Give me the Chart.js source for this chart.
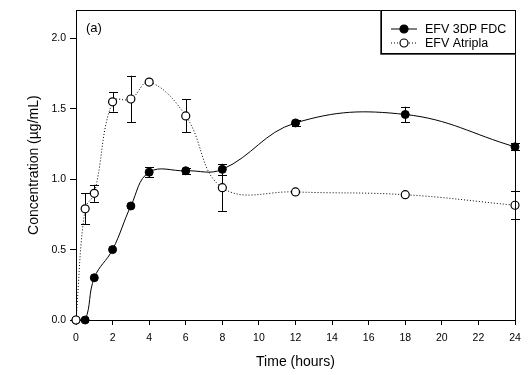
<!DOCTYPE html>
<html>
<head>
<meta charset="utf-8">
<script src="https://cdn.jsdelivr.net/npm/chart.js"></script>
<style>
  html, body { margin: 0; padding: 0; background: #fff; }
  #wrap { width: 530px; height: 375px; }
</style>
</head>
<body>
<div id="wrap"><canvas id="pkChart" width="530" height="375"></canvas></div>
<script>
// sampling times (hours)
const times = [0, 0.5, 1, 2, 3, 4, 6, 8, 12, 18, 24];

// EFV 3DP FDC - mean and error
const fdcMean = [0, 0, 0.30, 0.50, 0.81, 1.05, 1.06, 1.07, 1.40, 1.46, 1.23];
const fdcErr  = [0, 0, 0, 0, 0, 0.035, 0.02, 0.04, 0.02, 0.055, 0.025];

// EFV Atripla - mean and error
const atrMean = [0, 0.79, 0.90, 1.55, 1.57, 1.69, 1.45, 0.94, 0.91, 0.89, 0.815];
const atrErr  = [0, 0.11, 0.06, 0.07, 0.165, 0, 0.117, 0.165, 0, 0, 0.1];

const yTicks = [0, 0.5, 1.0, 1.5, 2.0];
const seriesNames = ['EFV 3DP FDC', 'EFV Atripla'];

const FONT = "'Liberation Sans', Arial, sans-serif";
Chart.defaults.font.family = FONT;
Chart.defaults.color = '#000';

function toPoints(xs, ys) {
    return xs.map((x, i) => ({ x: x, y: ys[i] }));
}

// draws the vertical error bars behind the markers
const errorBars = {
    id: 'errorBars',
    beforeDatasetsDraw(chart) {
        const ctx = chart.ctx;
        const xs = chart.scales.x, ys = chart.scales.y;
        const errs = [fdcErr, atrErr];
        ctx.save();
        ctx.strokeStyle = '#000';
        ctx.lineWidth = 1;
        chart.data.datasets.forEach((ds, d) => {
            ds.data.forEach((p, i) => {
                const e = errs[d][i];
                if (!e) return;
                const px = Math.round(xs.getPixelForValue(p.x)) + 0.5;
                const top = ys.getPixelForValue(p.y + e);
                const bot = ys.getPixelForValue(p.y - e);
                ctx.beginPath();
                ctx.moveTo(px, top); ctx.lineTo(px, bot);
                ctx.moveTo(px - 4.5, Math.round(top) + 0.5); ctx.lineTo(px + 4.5, Math.round(top) + 0.5);
                ctx.moveTo(px - 4.5, Math.round(bot) + 0.5); ctx.lineTo(px + 4.5, Math.round(bot) + 0.5);
                ctx.stroke();
            });
        });
        ctx.restore();
    }
};

// frame, panel label and legend box
const decorations = {
    id: 'decorations',
    afterDraw(chart) {
        const ctx = chart.ctx;
        const a = chart.chartArea;
        ctx.save();
        ctx.strokeStyle = '#000';
        ctx.lineWidth = 1;
        ctx.beginPath();
        ctx.moveTo(Math.round(a.left) + 0.5, Math.round(a.top) + 0.5);
        ctx.lineTo(Math.round(a.right) + 0.5, Math.round(a.top) + 0.5);
        ctx.lineTo(Math.round(a.right) + 0.5, Math.round(a.bottom) + 0.5);
        ctx.stroke();

        ctx.fillStyle = '#000';
        ctx.font = '13px ' + FONT;
        ctx.textBaseline = 'middle';
        ctx.textAlign = 'left';
        ctx.fillText('(a)', a.left + 10, a.top + 18);

        // legend
        const bx = 381.5, by = Math.round(a.top) + 0.5, bw = Math.round(a.right) - 381, bh = 43;
        ctx.fillStyle = '#fff';
        ctx.fillRect(bx, by, bw, bh);
        ctx.strokeStyle = '#555';
        ctx.beginPath();
        ctx.moveTo(bx - 1, by); ctx.lineTo(bx - 1, by + bh + 1); ctx.lineTo(bx + bw, by + bh + 1);
        ctx.stroke();
        ctx.strokeStyle = '#000';
        ctx.strokeRect(bx, by, bw, bh);

        const rows = [by + 18.5, by + 32.5];
        rows.forEach((ry, r) => {
            ctx.beginPath();
            ctx.setLineDash(r === 0 ? [] : [1, 2]);
            ctx.moveTo(391, ry); ctx.lineTo(417, ry);
            ctx.stroke();
            ctx.setLineDash([]);
            ctx.beginPath();
            ctx.arc(404, ry, 4, 0, Math.PI * 2);
            ctx.fillStyle = r === 0 ? '#000' : '#fff';
            ctx.fill();
            ctx.lineWidth = 1.2;
            ctx.stroke();
            ctx.lineWidth = 1;
            ctx.fillStyle = '#000';
            ctx.font = '12.5px ' + FONT;
            ctx.fillText(seriesNames[r], 425, ry + 0.5);
        });
        ctx.restore();
    }
};

new Chart(document.getElementById('pkChart'), {
    type: 'line',
    data: {
        datasets: [
            {
                label: seriesNames[0],
                data: toPoints(times, fdcMean),
                order: 1,
                borderColor: '#000',
                borderWidth: 1,
                pointRadius: 4,
                pointBackgroundColor: '#000',
                pointBorderColor: '#000',
                pointBorderWidth: 1,
                tension: 0.4,
                fill: false
            },
            {
                label: seriesNames[1],
                data: toPoints(times, atrMean),
                order: 0,
                borderColor: '#000',
                borderWidth: 1,
                borderDash: [1, 2],
                pointRadius: 4,
                pointBackgroundColor: '#fff',
                pointBorderColor: '#000',
                pointBorderWidth: 1.2,
                tension: 0.4,
                fill: false
            }
        ]
    },
    options: {
        responsive: false,
        animation: false,
        devicePixelRatio: 1,
        clip: false,
        layout: { padding: { top: 4, right: 15, left: 0, bottom: 0 } },
        plugins: {
            legend: { display: false },
            tooltip: { enabled: false }
        },
        scales: {
            x: {
                type: 'linear',
                min: 0,
                max: 24,
                ticks: { stepSize: 2, padding: 7, font: { size: 10.5 }, color: '#000', maxRotation: 0 },
                grid: { drawOnChartArea: false, drawTicks: true, tickLength: 5, color: '#000' },
                border: { color: '#000', width: 1 },
                title: { display: true, text: 'Time (hours)', font: { size: 14 }, padding: { top: 0, bottom: 4 } },
                afterFit(scale) { scale.height = 55; }
            },
            y: {
                type: 'linear',
                min: 0,
                max: 2.2,
                afterBuildTicks(scale) { scale.ticks = yTicks.map(v => ({ value: v })); },
                ticks: { padding: 4, font: { size: 10.5 }, color: '#000', callback: v => Number(v).toFixed(1) },
                grid: { drawOnChartArea: false, drawTicks: true, tickLength: 6, color: '#000' },
                border: { color: '#000', width: 1 },
                title: { display: true, text: 'Concentration (µg/mL)', font: { size: 14 }, padding: { top: 26, bottom: 0 } },
                afterFit(scale) { scale.width = 76; }
            }
        }
    },
    plugins: [errorBars, decorations]
});
</script>
</body>
</html>
